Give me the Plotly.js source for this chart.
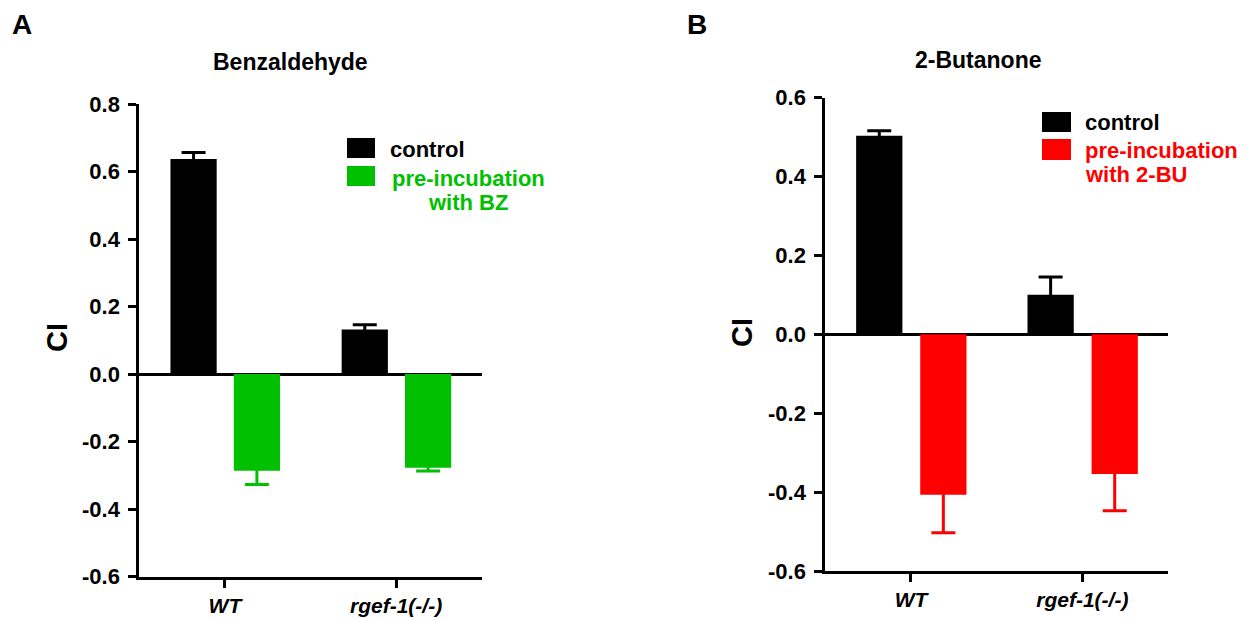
<!DOCTYPE html>
<html>
<head>
<meta charset="utf-8">
<script src="https://cdn.plot.ly/plotly-3.0.1.min.js"></script>
<style>html,body{margin:0;padding:0;background:#fff;}#chart{width:1255px;height:620px;}</style>
</head>
<body>
<div id="chart"></div>
<script>
// ---- data ----
const categories = ['WT', 'rgef-1(-/-)'];
// Panel A: Benzaldehyde
const bzControl = [0.637, 0.132];
const bzControlErr = [0.019, 0.014];
const bzPre = [-0.286, -0.277];
const bzPreErr = [0.041, 0.010];
// Panel B: 2-Butanone
const buControl = [0.503, 0.100];
const buControlErr = [0.013, 0.045];
const buPre = [-0.407, -0.354];
const buPreErr = [0.096, 0.093];
const yTicksA = [-0.6, -0.4, -0.2, 0.0, 0.2, 0.4, 0.6, 0.8];
const yTicksB = [-0.6, -0.4, -0.2, 0.0, 0.2, 0.4, 0.6];

const BLACK = '#000000', GREEN = '#00C000', RED = '#FF0000';
const FONT = 'Liberation Sans, Arial, sans-serif';
const W = 1255, H = 620;
const X = px => px / W;
const Y = py => 1 - py / H;
const tickText = vals => vals.map(v => v.toFixed(1));

// error bars: the inner half lies inside the bar, in the bar's own colour,
// so only the outward whisker is visible (as in the reference).
function barTrace(y, err, color, offset, xa, ya) {
  return {
    type: 'bar', x: categories, y: y, xaxis: xa, yaxis: ya,
    offset: offset, width: 0.27,
    marker: {color: color, line: {width: 0}},
    error_y: {type: 'data', array: err, visible: true, thickness: 3, width: 12, color: color},
    showlegend: false, hoverinfo: 'skip'
  };
}

const traces = [
  barTrace(bzControl, bzControlErr, BLACK, -0.318, 'x', 'y'),
  barTrace(bzPre, bzPreErr, GREEN, 0.052, 'x', 'y'),
  barTrace(buControl, buControlErr, BLACK, -0.32, 'x2', 'y2'),
  barTrace(buPre, buPreErr, RED, 0.054, 'x2', 'y2')
];

const xCommon = {
  type: 'category', range: [-0.5, 1.5], showline: true, linewidth: 3, linecolor: BLACK,
  ticks: 'outside', ticklen: 8, tickwidth: 3, tickcolor: BLACK, showgrid: false, zeroline: false,
  tickfont: {family: FONT, size: 21, color: BLACK, weight: 'bold', style: 'italic'},
  ticklabelstandoff: 0, fixedrange: true
};
const yCommon = {
  showline: true, linewidth: 3, linecolor: BLACK, ticks: 'outside', ticklen: 8, tickwidth: 3,
  tickcolor: BLACK, showgrid: false, zeroline: true, zerolinewidth: 3, zerolinecolor: BLACK,
  tickfont: {family: FONT, size: 22, color: BLACK, weight: 'bold'},
  tickmode: 'array', ticklabelstandoff: 4, fixedrange: true
};

const layout = {
  width: W, height: H, margin: {l: 0, r: 0, t: 0, b: 0},
  paper_bgcolor: '#fff', plot_bgcolor: 'rgba(0,0,0,0)',
  barmode: 'overlay', showlegend: false,
  xaxis: Object.assign({}, xCommon, {domain: [X(139.3), X(481.7)], anchor: 'y'}),
  yaxis: Object.assign({}, yCommon, {domain: [Y(576.7), Y(104)], anchor: 'x', range: [-0.6, 0.8],
    tickvals: yTicksA, ticktext: tickText(yTicksA)}),
  xaxis2: Object.assign({}, xCommon, {domain: [X(825.3), X(1168)], anchor: 'y2'}),
  yaxis2: Object.assign({}, yCommon, {domain: [Y(571), Y(97.6)], anchor: 'x2', range: [-0.6, 0.6],
    tickvals: yTicksB, ticktext: tickText(yTicksB)}),
  shapes: [
    {type: 'rect', xref: 'paper', yref: 'paper', x0: X(347), x1: X(375), y0: Y(158), y1: Y(138), fillcolor: BLACK, line: {width: 0}},
    {type: 'rect', xref: 'paper', yref: 'paper', x0: X(347), x1: X(375), y0: Y(186), y1: Y(166), fillcolor: GREEN, line: {width: 0}},
    {type: 'rect', xref: 'paper', yref: 'paper', x0: X(1042), x1: X(1071), y0: Y(132), y1: Y(112), fillcolor: BLACK, line: {width: 0}},
    {type: 'rect', xref: 'paper', yref: 'paper', x0: X(1042), x1: X(1071), y0: Y(160), y1: Y(139), fillcolor: RED, line: {width: 0}}
  ],
  annotations: []
};

function ann(text, px, py, opts) {
  return Object.assign({
    text: text, xref: 'paper', yref: 'paper', x: X(px), y: Y(py),
    xanchor: 'center', yanchor: 'middle', showarrow: false,
    font: {family: FONT, size: 22, color: BLACK, weight: 'bold'}
  }, opts || {});
}
layout.annotations.push(
  ann('A', 22, 25, {font: {family: FONT, size: 28, color: BLACK, weight: 'bold'}}),
  ann('B', 697, 25, {font: {family: FONT, size: 28, color: BLACK, weight: 'bold'}}),
  ann('Benzaldehyde', 290, 62, {font: {family: FONT, size: 23, color: BLACK, weight: 'bold'}}),
  ann('2-Butanone', 979, 60, {font: {family: FONT, size: 23, color: BLACK, weight: 'bold'}}),
  ann('CI', 57, 337, {textangle: -90, font: {family: FONT, size: 29, color: BLACK, weight: 'bold'}}),
  ann('CI', 742, 333, {textangle: -90, font: {family: FONT, size: 29, color: BLACK, weight: 'bold'}}),
  ann('control', 388, 149, {xanchor: 'left'}),
  ann('pre-incubation', 468, 178, {font: {family: FONT, size: 22, color: GREEN, weight: 'bold'}}),
  ann('with BZ', 468, 203, {font: {family: FONT, size: 22, color: GREEN, weight: 'bold'}}),
  ann('control', 1083, 123, {xanchor: 'left'}),
  ann('pre-incubation', 1083, 150, {xanchor: 'left', font: {family: FONT, size: 22, color: RED, weight: 'bold'}}),
  ann('with 2-BU', 1083, 175, {xanchor: 'left', font: {family: FONT, size: 22, color: RED, weight: 'bold'}})
);

Plotly.newPlot('chart', traces, layout, {displayModeBar: false, staticPlot: true});
</script>
</body>
</html>
